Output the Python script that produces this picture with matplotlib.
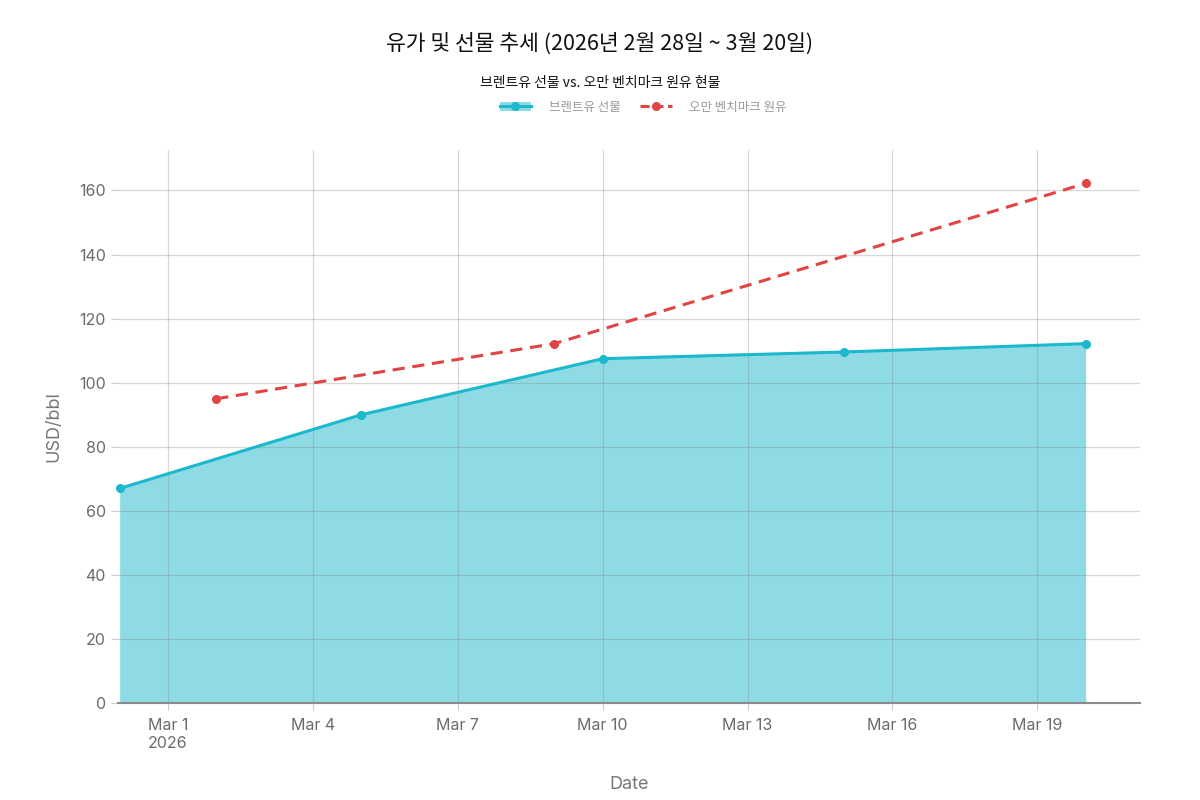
import datetime as dt

import matplotlib
matplotlib.use("Agg")
import matplotlib.pyplot as plt
from matplotlib.lines import Line2D
from matplotlib.patches import Patch

plt.rcParams["font.family"] = ["Noto Sans CJK KR", "DejaVu Sans"]

TITLE = "유가 및 선물 추세 (2026년 2월 28일 ~ 3월 20일)"
SUBTITLE = "브렌트유 선물 vs. 오만 벤치마크 원유 현물"

brent_dates = ["2026-02-28", "2026-03-05", "2026-03-10", "2026-03-15", "2026-03-20"]
brent_values = [67, 90, 107.5, 109.6, 112.2]
brent_label = "브렌트유 선물"

oman_dates = ["2026-03-02", "2026-03-09", "2026-03-20"]
oman_values = [95, 112.2, 162.2]
oman_label = "오만 벤치마크 원유"

CYAN = "#1cb8cc"
FILL = "#8fdbe5"
RED = "#e04444"
GREY = "#6b6b6b"
LATIN = ["Inter", "DejaVu Sans"]


def to_dates(values):
    return [dt.datetime.strptime(v, "%Y-%m-%d") for v in values]


bx = to_dates(brent_dates)
ox = to_dates(oman_dates)

fig = plt.figure(figsize=(12, 8), dpi=100)
ax = fig.add_axes([0.098, 0.121, 0.852, 0.691])

ax.fill_between(bx, 0, brent_values, color=FILL, linewidth=0, zorder=1)
ax.plot(bx, brent_values, color=CYAN, linewidth=2.2, marker="o", markersize=5.5,
        zorder=4, clip_on=False)
ax.plot(ox, oman_values, color=RED, linewidth=2.2, linestyle=(0, (4, 2.5)),
        marker="o", markersize=5.5, zorder=4, clip_on=False)

ax.set_xlim(dt.datetime(2026, 2, 27, 23), dt.datetime(2026, 3, 21, 3))
ax.set_ylim(0, 172.5)
ax.set_yticks(range(0, 161, 20))

ticks = [dt.datetime(2026, 3, d) for d in (1, 4, 7, 10, 13, 16, 19)]
ax.set_xticks(ticks)
ax.set_xticklabels(["Mar 1\n2026"] + [f"Mar {t.day}" for t in ticks[1:]])
ax.get_xticklabels()[0].set_multialignment("left")
for lbl in ax.get_xticklabels() + ax.get_yticklabels():
    lbl.set_fontfamily(LATIN)

ax.grid(True, color="#7f7f7f", alpha=0.3, linewidth=0.9, zorder=2)
ax.set_axisbelow(False)
for line in ax.get_xgridlines() + ax.get_ygridlines():
    line.set_zorder(2)
for side in ("top", "right", "left"):
    ax.spines[side].set_visible(False)
ax.spines["bottom"].set_color("#8a8a8a")
ax.spines["bottom"].set_linewidth(1.5)
ax.spines["bottom"].set_zorder(5)

ax.tick_params(axis="both", colors="#cccccc", labelcolor=GREY, labelsize=11.5, length=5, width=0.8)
ax.tick_params(axis="x", pad=6)

ax.set_xlabel("Date", color="#777777", fontsize=13, labelpad=18, fontfamily=LATIN)
ax.set_ylabel("USD/bbl", color="#777777", fontsize=13, labelpad=12, fontfamily=LATIN)

fig.text(0.5, 0.945, TITLE, ha="center", va="center", fontsize=15.5, color="#111111")
fig.text(0.5, 0.896, SUBTITLE, ha="center", va="center", fontsize=10, color="#111111")

handles = [
    (Patch(facecolor=FILL, edgecolor="none"),
     Line2D([0], [0], color=CYAN, linewidth=2.2, marker="o", markersize=5.5)),
    Line2D([0], [0], color=RED, linewidth=2.2, linestyle=(0, (3, 1.5)), marker="o", markersize=5.5),
]
fig.legend(handles, [brent_label, oman_label], loc="center", bbox_to_anchor=(0.536, 0.866),
           ncol=2, frameon=False, fontsize=9, labelcolor="#999999",
           handlelength=2.5, columnspacing=1.6, handletextpad=1.4)

fig.savefig("out.png", dpi=100)
